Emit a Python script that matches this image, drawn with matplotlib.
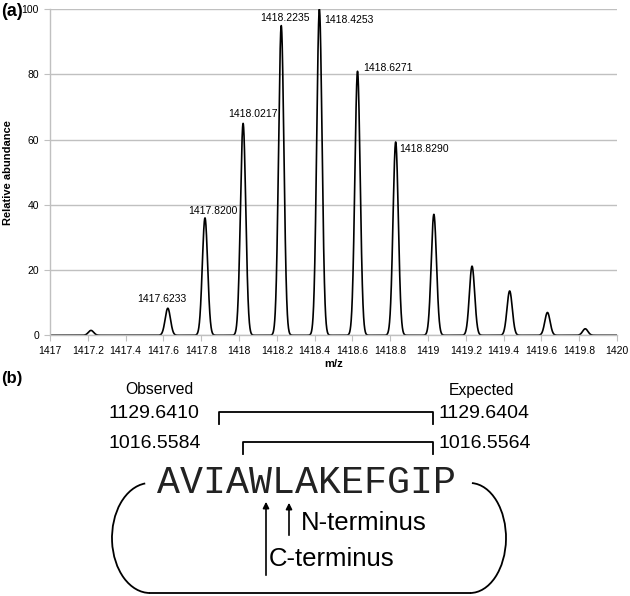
import numpy as np
import matplotlib
matplotlib.use("Agg")
import matplotlib.pyplot as plt
from matplotlib.patches import Arc

# (a) isotope cluster: peak centroids (m/z) and relative abundance
peak_mz = [1417.217, 1417.6233, 1417.8200, 1418.0217, 1418.2235, 1418.4253,
           1418.6271, 1418.8290, 1419.031, 1419.233, 1419.432, 1419.632, 1419.832]
peak_int = [1.5, 8.3, 36.0, 65.0, 95.0, 100.0, 81.0, 59.3, 37.1, 21.2, 13.6, 7.0, 2.0]
peak_sigma = 0.014

# peaks carrying a label, and how the label sits (offset in pixels, alignment)
label_mz = [1417.6233, 1417.8200, 1418.0217, 1418.2235, 1418.4253, 1418.6271, 1418.8290]
label_off = [(-6, 9), (8, 7), (10, 9), (4, 8), (5, -11), (6, 3), (4, -7)]
label_ha = ["center", "center", "center", "center", "left", "left", "left"]

x_ticks = [1417, 1417.2, 1417.4, 1417.6, 1417.8, 1418, 1418.2, 1418.4,
           1418.6, 1418.8, 1419, 1419.2, 1419.4, 1419.6, 1419.8, 1420]
y_ticks = [0, 20, 40, 60, 80, 100]

# (b) fragment masses
observed = ["1129.6410", "1016.5584"]
expected = ["1129.6404", "1016.5564"]
sequence = "AVIAWLAKEFGIP"

GRID = "#c0c0c0"
FONT = "Liberation Sans"

fig = plt.figure(figsize=(6.3, 5.96), dpi=100)

# ---------- (a) spectrum ----------
ax = fig.add_axes([50 / 630, 1 - 335.3 / 596, 567 / 630, 326 / 596])
mz = np.linspace(1417, 1420, 6001)
profile = np.zeros_like(mz)
for m, h in zip(peak_mz, peak_int):
    profile += h * np.exp(-0.5 * ((mz - m) / peak_sigma) ** 2)
ax.plot(mz, profile, color="black", lw=1.2)

ax.set_xlim(1417, 1420)
ax.set_ylim(0, 100)
ax.set_xticks(x_ticks)
ax.set_xticklabels([f"{t:g}" for t in x_ticks])
ax.set_yticks(y_ticks)
ax.grid(axis="y", color=GRID, lw=1)
ax.set_axisbelow(True)
for s in ["top", "right"]:
    ax.spines[s].set_visible(False)
for s in ["left", "bottom"]:
    ax.spines[s].set_color(GRID)
    ax.spines[s].set_linewidth(1)
ax.tick_params(length=4, color=GRID, labelsize=7.5, pad=4)
for lab in ax.get_xticklabels() + ax.get_yticklabels():
    lab.set_fontfamily(FONT)

ax.set_xlabel("m/z", fontsize=8, fontweight="bold", family=FONT, labelpad=2)
ax.set_ylabel("Relative abundance", fontsize=8, fontweight="bold", family=FONT)
ax.yaxis.set_label_coords(-37 / 567, 0.5)

for m, (dx, dy), ha in zip(label_mz, label_off, label_ha):
    h = peak_int[peak_mz.index(m)]
    ax.annotate(f"{m:.4f}", xy=(m, h), xytext=(dx, dy), textcoords="offset pixels",
                ha=ha, va="center", fontsize=7.5, family=FONT)

# ---------- (b) schematic, drawn in pixel coordinates ----------
ov = fig.add_axes([0, 0, 1, 1])
ov.set_xlim(0, 630)
ov.set_ylim(596, 0)
ov.axis("off")

ov.text(1, 12, "(a)", fontsize=13, fontweight="bold", family=FONT, va="center")
ov.text(1, 379, "(b)", fontsize=12, fontweight="bold", family=FONT, va="center")

ov.text(159, 390, "Observed", fontsize=11.3, family=FONT, ha="center", va="center")
ov.text(482, 390, "Expected", fontsize=11.3, family=FONT, ha="center", va="center")

rows_y = [413, 443]
bracket_left = [219, 243]
for yy, obs, exp, xl in zip(rows_y, observed, expected, bracket_left):
    ov.text(108, yy, obs, fontsize=14, family=FONT, ha="left", va="center")
    ov.text(439, yy, exp, fontsize=14, family=FONT, ha="left", va="center")
    ov.plot([xl, xl, 433, 433], [yy + 11, yy - 1, yy - 1, yy + 11], color="black", lw=1.3)

ov.text(157, 493, sequence, fontsize=27.5, family="Liberation Mono", ha="left",
        va="baseline", color="#222222")

# cyclic backbone outline
ov.add_patch(Arc((150, 538), 76, 110, theta1=90, theta2=265, color="black", lw=1.3))
ov.add_patch(Arc((470, 538), 72, 110, theta1=-88, theta2=90, color="black", lw=1.3))
ov.plot([150, 470], [593, 593], color="black", lw=1.3)

# cleavage arrows
ov.annotate("", xy=(266, 499), xytext=(266, 578),
            arrowprops=dict(arrowstyle="-|>", color="black", lw=1.2, mutation_scale=9))
ov.annotate("", xy=(289, 500), xytext=(289, 538),
            arrowprops=dict(arrowstyle="-|>", color="black", lw=1.2, mutation_scale=9))
ov.text(301, 523, "N-terminus", fontsize=18.5, family=FONT, ha="left", va="center")
ov.text(269, 559, "C-terminus", fontsize=18.5, family=FONT, ha="left", va="center")

fig.savefig("out.png", dpi=100)
